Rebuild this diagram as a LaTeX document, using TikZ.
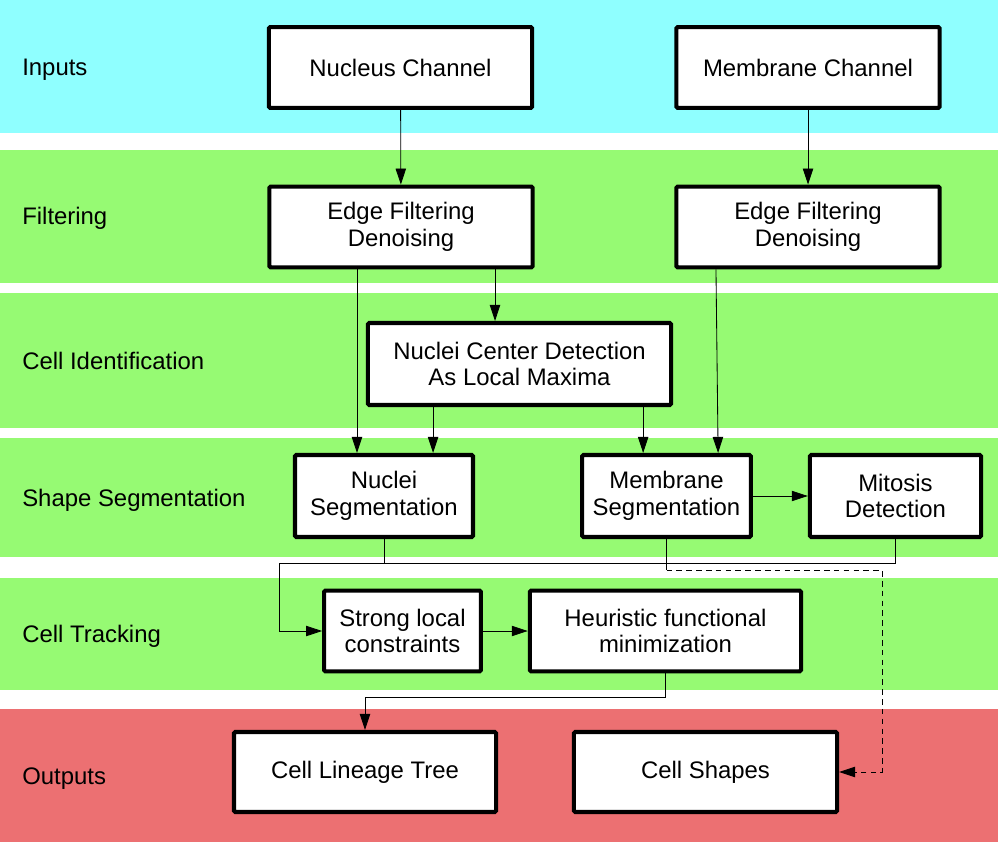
\documentclass[tikz,border=0pt]{standalone}
\usepackage{fontspec}
\setmainfont{Liberation Sans}
\usetikzlibrary{arrows.meta,positioning,calc}
\definecolor{inputcyan}{RGB}{143,255,255}
\definecolor{stagegreen}{RGB}{150,250,115}
\definecolor{outputred}{RGB}{236,112,114}

\begin{document}
\begin{tikzpicture}[
  x=0.025cm, y=-0.025cm,
  block/.style={rectangle, draw, line width=2.9pt, fill=white, rounded corners=1pt, align=center, inner sep=2pt, minimum height=2.02cm, font=\fontsize{17}{19}\selectfont},
  lanelabel/.style={anchor=base west, inner sep=0pt, font=\fontsize{17}{19}\selectfont},
  arrow/.style={-{Triangle[length=4mm, width=2.6mm]}, line width=0.6pt},
]
  % lanes
  \useasboundingbox (0,0) rectangle (1000,859);
  \fill[inputcyan] (0,0) rectangle (998,133);
  \foreach \top/\bot in {150/283, 293/428, 438/557, 578/690}
    \fill[stagegreen] (0,\top) rectangle (998,\bot);
  \fill[outputred] (0,709) rectangle (998,842);

  \node[lanelabel] (lInputs) at (22,76) {Inputs};
  \node[lanelabel] (lFilter) at (22,225) {Filtering};
  \node[lanelabel] (lIdent) at (22,370) {Cell Identification};
  \node[lanelabel] (lShape) at (22,506) {Shape Segmentation};
  \node[lanelabel] (lTrack) at (22,642) {Cell Tracking};
  \node[lanelabel] (lOutput) at (22,784) {Outputs};

  % blocks
  \node[block, minimum width=6.58cm] (nucleus) at (400.5,67.5) {Nucleus Channel};
  \node[block, minimum width=6.58cm] (membrane) at (808,67.5) {Membrane Channel};
  \node[block, minimum width=6.58cm] (edgeN) at (401,227) {Edge Filtering\\Denoising};
  \node[block, minimum width=6.58cm] (edgeM) at (808,227) {Edge Filtering\\Denoising};
  \node[block, minimum width=7.58cm, minimum height=2.05cm] (ncd) at (519.5,364) {Nuclei Center Detection\\As Local Maxima};
  \node[block, minimum width=4.45cm, minimum height=2.05cm] (nucseg) at (384,496) {Nuclei\\Segmentation};
  \node[block, minimum width=4.22cm, minimum height=2.05cm] (memseg) at (666.5,496) {Membrane\\Segmentation};
  \node[block, minimum width=4.28cm, minimum height=2.05cm, right=1.37cm of memseg] (mitosis) {Mitosis\\Detection};
  \node[block, minimum width=3.92cm] (strong) at (402.5,631) {Strong local\\constraints};
  \node[block, minimum width=6.78cm, right=1.12cm of strong] (heur) {Heuristic functional\\minimization};
  \node[block, minimum width=6.55cm, minimum height=2cm] (lineage) at (365,772) {Cell Lineage Tree};
  \node[block, minimum width=6.58cm, minimum height=2cm] (shapes) at (705.5,772) {Cell Shapes};

  % connectors
  \draw[arrow] (nucleus) -- (edgeN);
  \draw[arrow] (membrane) -- (edgeM);
  \draw[arrow] ([xshift=-1.1cm]edgeN.south) -- ([xshift=-1.1cm]edgeN.south |- nucseg.north);
  \draw[arrow] ([xshift=2.35cm]edgeN.south) -- ([xshift=2.35cm]edgeN.south |- ncd.north);
  \draw[arrow] ([xshift=-2.16cm]ncd.south) -- ([xshift=-2.16cm]ncd.south |- nucseg.north);
  \draw[arrow] ([xshift=3.09cm]ncd.south) -- ([xshift=3.09cm]ncd.south |- memseg.north);
  \draw[arrow] ([xshift=-2.3cm]edgeM.south) -- ([xshift=1.29cm]memseg.north);
  \draw[arrow] (memseg) -- (mitosis);

  \coordinate (segjoin) at (279,563);
  \draw[line width=0.6pt] (mitosis.south) |- (segjoin);
  \draw[arrow] (nucseg.south) |- (segjoin) |- (strong.west);
  \draw[arrow] (strong) -- (heur);

  \coordinate (trackjoin) at (365,697);
  \draw[arrow] (heur.south) |- (trackjoin) -- (lineage.north);

  \coordinate (shapeturn) at (882,570);
  \draw[line width=0.6pt] (memseg.south) -- (memseg.south |- shapeturn);
  \draw[arrow, dash pattern=on 4pt off 3pt] (memseg.south |- shapeturn) -- (shapeturn) |- (shapes.east);
\end{tikzpicture}
\end{document}
